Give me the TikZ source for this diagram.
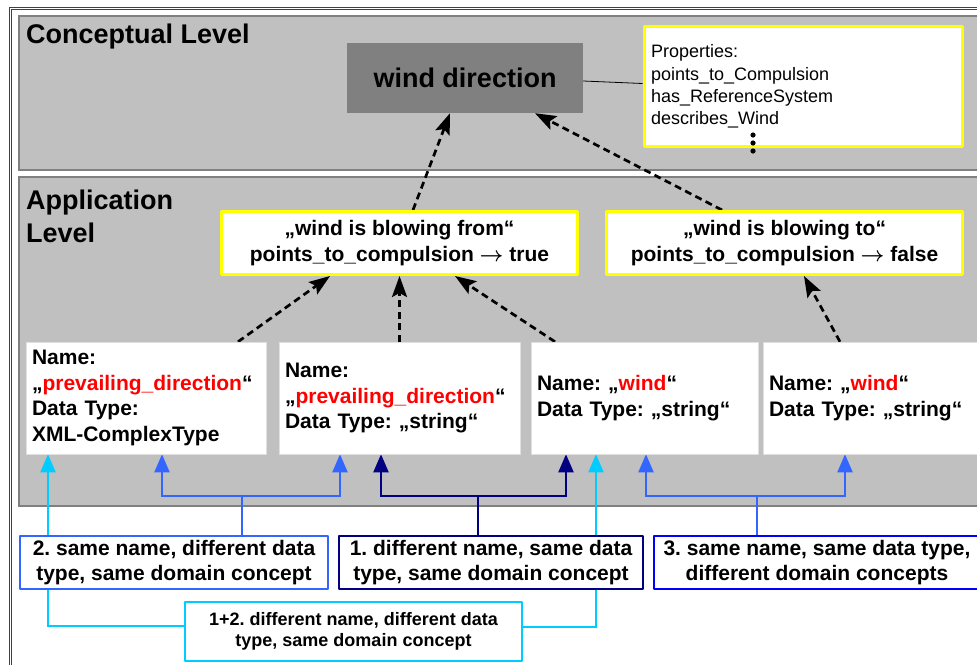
\documentclass[tikz,border=0pt]{standalone}
\usepackage{fontspec}
\setmainfont{Liberation Sans}
\usetikzlibrary{arrows.meta}
\pgfdeclarelayer{panels}
\pgfdeclarelayer{links}
\pgfsetlayers{panels,links,main}
\definecolor{panelgray}{HTML}{C0C0C0}
\definecolor{edgegray}{HTML}{808080}
\definecolor{markyellow}{HTML}{FFFF00}
\definecolor{skycyan}{HTML}{00CCFF}
\definecolor{midblue}{HTML}{3366FF}
\definecolor{darknavy}{HTML}{000080}
\definecolor{pureblue}{HTML}{0000FF}
\definecolor{namered}{HTML}{FF0000}
\newcommand{\impl}{{\boldmath$\rightarrow$}}
\begin{document}
\frenchspacing
\begin{tikzpicture}[x=1pt,y=-1pt,line join=round,
	every node/.style={font=\bfseries\fontsize{21}{25.5}\selectfont,inner sep=0pt},
	level/.style={font=\bfseries\fontsize{27}{33}\selectfont,align=left,anchor=base west},
	usage/.style={draw=markyellow,line width=3pt,fill=white,align=center,minimum width=356,minimum height=63},
	field/.style={draw=black!12,fill=white,line width=0.5pt,align=left,inner xsep=6pt,text width=#1pt,minimum height=112},
	kind/.style={draw=#1,fill=white,line width=2pt,align=center,minimum height=53},
	depends/.style={-{Stealth[length=21pt,width=15pt,inset=4pt]},line width=2.7pt,dash pattern=on 7pt off 4.5pt},
	link/.style={draw=#1,line width=2pt},
	linkarrow/.style={link=#1,-{Triangle[length=18pt,width=15pt]}}]
	\useasboundingbox (0,0) rectangle (977,664);
	\begin{pgfonlayer}{panels}
		\fill[white] (0,0) rectangle (977,664);
		\draw[black!75,double,double distance=1.6pt,line width=0.7pt] (10.5,8.5) rectangle (995,690);
		\draw[fill=panelgray,draw=edgegray,line width=1.5pt] (19,16) rectangle (990,170);
		\draw[fill=panelgray,draw=edgegray,line width=1.5pt] (19,177) rectangle (990,506);
	\end{pgfonlayer}
	% conceptual level
	\node[level] (clevel) at (26,43) {Conceptual Level};
	\node[fill=edgegray,minimum width=236,minimum height=70,font=\bfseries\fontsize{27}{33}\selectfont] (wd) at (465,78) {wind direction};
	\node[draw=markyellow,line width=3pt,fill=white,align=left,inner xsep=7pt,text width=304pt,minimum height=120,font=\fontsize{18}{22.3}\selectfont] (props) at (803,86.5) {Properties:\\points\_to\_Compulsion\\has\_ReferenceSystem\\describes\_Wind};
	\foreach \dy in {135,143,151}
		\fill (753,\dy) circle[radius=2.6pt];
	% application level
	\node[level] (alevel) at (26,242) {Application\\Level};
	\node[usage] (from) at (399.5,243) {„wind is blowing from“\\points\_to\_compulsion \impl{} true};
	\node[usage] (to) at (784.5,243) {„wind is blowing to“\\points\_to\_compulsion \impl{} false};
	\node[field=228] (b1) at (146,398) {Name:\\„\textcolor{namered}{prevailing\_direction}“\\Data Type:\\XML-ComplexType};
	\node[field=229] (b2) at (399.5,398) {Name:\\„\textcolor{namered}{prevailing\_direction}“\\Data Type: „string“};
	\node[field=215] (b3) at (644.5,398) {Name: „\textcolor{namered}{wind}“\\Data Type: „string“};
	\node[field=215] (b4) at (876.5,398) {Name: „\textcolor{namered}{wind}“\\Data Type: „string“};
	% kinds of heterogeneity
	\node[kind=midblue,minimum width=308] (c2) at (174,562.5) {2. same name, different data\\type, same domain concept};
	\node[kind=darknavy,minimum width=304] (c1) at (491,562.5) {1. different name, same data\\type, same domain concept};
	\node[kind=pureblue,minimum width=326] (c3) at (817,562.5) {3. same name, same data type,\\different domain concepts};
	\node[kind=skycyan,minimum width=337,minimum height=59,font=\bfseries\fontsize{18}{21.5}\selectfont] (c12) at (353.5,631.5) {1+2. different name, different data\\type, same domain concept};
	\coordinate (j2) at (242,496);
	\coordinate (j1) at (478,496);
	\coordinate (j3) at (757,496);
	\begin{pgfonlayer}{links}
		\draw[line width=0.8pt] ([yshift=-3]wd.east) -- ([yshift=3]props.west);
		\draw[depends] ([xshift=13.5]from.north) -- ([xshift=-15]wd.south);
		\draw[depends] ([xshift=-62.5]to.north) -- ([xshift=70]wd.south);
		\draw[depends] ([xshift=92]b1.north) -- ([xshift=-69.5]from.south);
		\draw[depends] (b2.north) -- (from.south);
		\draw[depends] ([xshift=-89.5]b3.north) -- ([xshift=55.5]from.south);
		\draw[depends] ([xshift=-36.5]b4.north) -- ([xshift=19.5]to.south);
		% 2.
		\draw[link=midblue] (c2.north -| j2) -- (j2);
		\draw[linkarrow=midblue] (j2) -| ([xshift=16]b1.south);
		\draw[linkarrow=midblue] (j2) -| ([xshift=-59.5]b2.south);
		% 1.
		\draw[link=darknavy] (c1.north -| j1) -- (j1);
		\draw[linkarrow=darknavy] (j1) -| ([xshift=-18.5]b2.south);
		\draw[linkarrow=darknavy] (j1) -| ([xshift=-78.5]b3.south);
		% 3.
		\draw[link=midblue] (c3.north -| j3) -- (j3);
		\draw[linkarrow=midblue] (j3) -| ([xshift=1.5]b3.south);
		\draw[linkarrow=midblue] (j3) -| ([xshift=-31.5]b4.south);
		% 1+2.
		\draw[linkarrow=skycyan] ([xshift=-126]c2.north) -- ([xshift=-98]b1.south);
		\draw[link=skycyan] ([xshift=-126]c2.south) |- ([yshift=6]c12.west);
		\draw[linkarrow=skycyan] ([yshift=5]c12.east) -| ([xshift=-48.5]b3.south);
	\end{pgfonlayer}
\end{tikzpicture}
\end{document}
